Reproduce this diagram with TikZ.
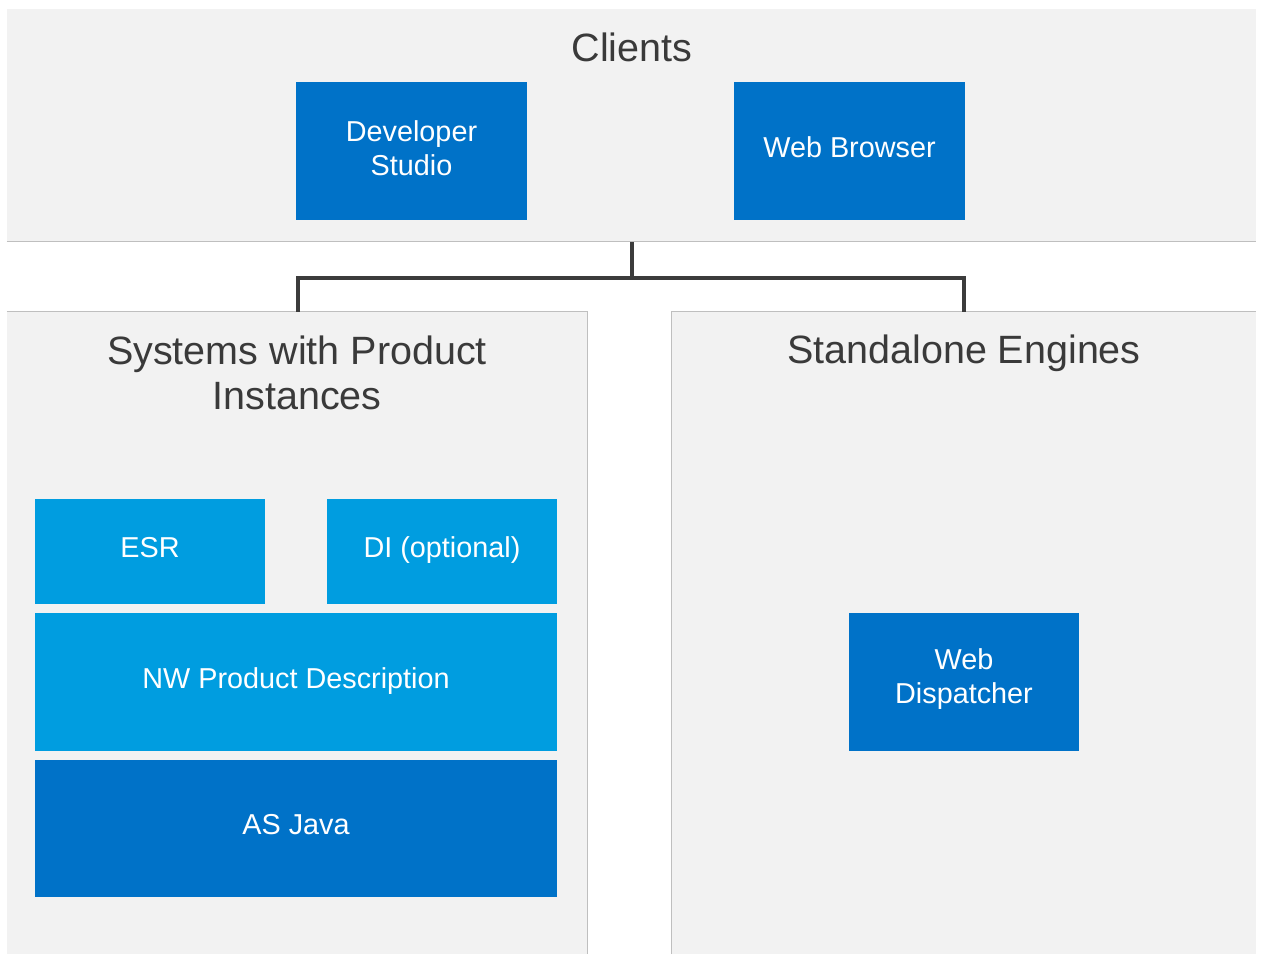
\documentclass[tikz,border=0pt]{standalone}
\usepackage{fontspec}
\setmainfont{Liberation Sans}
\definecolor{panelbg}{HTML}{F2F2F2}
\definecolor{panelline}{HTML}{BFBFBF}
\definecolor{darkblue}{HTML}{0072C8}
\definecolor{lightblue}{HTML}{009DE0}
\definecolor{titlegray}{HTML}{3A3A3A}
\definecolor{conn}{HTML}{3C3C3C}
\tikzset{
  panel/.style={fill=panelbg, draw=none, inner sep=0pt, rectangle},
  edge/.style={draw=panelline, line width=1.3pt},
  boxtext/.style={text=white, align=center, inner sep=0pt, yshift=3pt,
    font=\fontsize{28.8}{34}\selectfont},
  onetext/.style={boxtext, text height=21pt, text depth=0pt, yshift=1.5pt},
  box/.style={rectangle, inner sep=0pt, minimum width=231pt, minimum height=138pt},
  dbox/.style={box, fill=darkblue},
  lbox/.style={box, fill=lightblue},
  title/.style={text=titlegray, align=center, font=\fontsize{39.5}{45}\selectfont, inner sep=0pt},
  link/.style={draw=conn, line width=4pt}
}
\begin{document}
\begin{tikzpicture}[x=1pt,y=-1pt]
\useasboundingbox (0,0) rectangle (1261,954);
\fill[white] (0,0) rectangle (1261,954);
% panels
\node[panel, minimum width=1249pt, minimum height=232pt] (clients) at (631.5,125) {};
\node[panel, minimum width=580pt, minimum height=642pt] (left) at (297,633) {};
\node[panel, minimum width=584pt, minimum height=642pt] (right) at (964,633) {};
\draw[edge] (clients.south west) -- (clients.south east);
\draw[edge] (left.north west) -- (left.north east) -- (left.south east);
\draw[edge] (right.south west) -- (right.north west) -- (right.north east);
% titles
\node[title] (tclients) at (632,47) {Clients};
\node[title] (tleft) at (297,373) {Systems with Product\\Instances};
\node[title] (tright) at (964,353) {Standalone Engines};
% client boxes
\node[dbox, label={[boxtext]center:{Developer\\Studio}}] (devstudio) at (411.5,151) {};
\node[dbox, label={[onetext]center:Web Browser}] (browser) at (849.5,151) {};
% left stack
\node[lbox, minimum width=230pt, minimum height=105pt, label={[onetext]center:ESR}] (esr) at (150,551.5) {};
\node[lbox, minimum width=230pt, minimum height=105pt, label={[onetext]center:DI (optional)}] (di) at (442,551.5) {};
\node[lbox, minimum width=522pt, minimum height=138pt, label={[onetext]center:NW Product Description}] (nw) at (296,682) {};
\node[dbox, minimum width=522pt, minimum height=137pt, label={[onetext]center:AS Java}] (asjava) at (296,828.5) {};
% right
\node[dbox, minimum width=230pt, label={[boxtext]center:{Web\\Dispatcher}}] (webdisp) at (964,682) {};
% connectors
\coordinate (junction) at ([yshift=-37pt]clients.south);
\draw[link] ([yshift=-1pt]clients.south) -- (junction);
\draw[link] ([xshift=1pt]left.north) |- (junction) -| (right.north);
\end{tikzpicture}
\end{document}
